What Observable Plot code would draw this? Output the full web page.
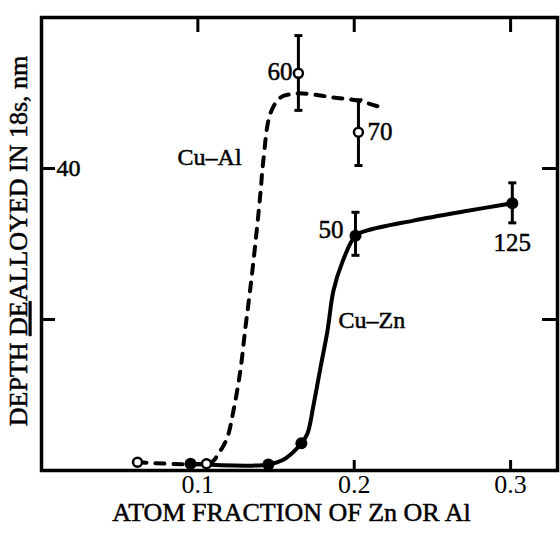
<!DOCTYPE html>
<html>
<head>
<meta charset="utf-8">
<script src="https://cdn.jsdelivr.net/npm/d3@7"></script>
<script src="https://cdn.jsdelivr.net/npm/@observablehq/plot@0.6"></script>
<style>
  body { margin: 0; background: #fff; }
  #chart svg { display: block; }
</style>
</head>
<body>
<div id="chart"></div>
<script>
// ---- Cu–Al measured points (open circles) ----
const alX = [0.0614, 0.1055, 0.1643, 0.2027];
const alY = [1.1, 0.9, 52.6, 44.8];
const alLabel = ["", "", "60", "70"];
const alErrLo = [null, null, 47.7, 40.4];
const alErrHi = [null, null, 57.6, 49.1];

// ---- Cu–Zn measured points (filled circles) ----
const znX = [0.0953, 0.1451, 0.1662, 0.2008, 0.3011];
const znY = [0.9, 0.8, 3.6, 31.1, 35.4];
const znLabel = ["", "", "", "50", "125"];
const znErrLo = [null, null, null, 28.5, 32.8];
const znErrHi = [null, null, null, 34.2, 38.1];

// ---- hand-drawn curves ----
const alCurveX = [0.0614, 0.1055, 0.1100, 0.1132, 0.1157, 0.1189, 0.1228, 0.1272, 0.1304, 0.1336, 0.1368, 0.1400, 0.1419, 0.1464, 0.1528, 0.1611, 0.1701, 0.1867, 0.2020, 0.2199];
const alCurveY = [1.1, 0.9, 1.3, 2.25, 3.05, 4.4, 7.95, 13.25, 18.9, 24.2, 30.1, 36.7, 41.1, 47.3, 49.4, 49.9, 49.9, 49.4, 49.0, 47.9];
const znCurveX = [0.0953, 0.1451, 0.1560, 0.1662, 0.1701, 0.1739, 0.1784, 0.1829, 0.1867, 0.1924, 0.2008, 0.2084, 0.2379, 0.2698, 0.3011];
const znCurveY = [0.9, 0.8, 1.6, 3.6, 4.9, 8.6, 13.6, 18.5, 23.8, 27.6, 31.1, 31.8, 33.1, 34.3, 35.4];

// ---- series labels ----
const seriesNames = ["Cu–Al", "Cu–Zn"];
const seriesLabelX = [0.087, 0.19];
const seriesLabelY = [41.5, 19.9];

// ---- ticks ----
const xTopTicks = [0.1, 0.2, 0.3];
const xBottomTicks = [0.2, 0.3];
const xTickLabels = [0.1, 0.2, 0.3];
const yTicks = [20, 40];
const yLabelTicks = [40];

const xTitle = "ATOM FRACTION OF Zn OR Al";
const yTitle = "DEPTH DEALLOYED IN 18s, nm";

// ---- build tables ----
const al = alX.map((x, i) => ({x, y: alY[i], label: alLabel[i], lo: alErrLo[i], hi: alErrHi[i]}));
const zn = znX.map((x, i) => ({x, y: znY[i], label: znLabel[i], lo: znErrLo[i], hi: znErrHi[i]}));
const alCurve = alCurveX.map((x, i) => ({x, y: alCurveY[i]}));
const znCurve = znCurveX.map((x, i) => ({x, y: znCurveY[i]}));
const errs = [...al, ...zn].filter(d => d.lo != null);
const caps = errs.flatMap(d => [{x: d.x, y: d.lo}, {x: d.x, y: d.hi}]);
const seriesLbl = seriesNames.map((t, i) => ({t, x: seriesLabelX[i], y: seriesLabelY[i]}));

const W = 560, H = 534;
const mL = 41, mR = 3, mT = 17, mB = 64;
const fw = W - mL - mR, fh = H - mT - mB;

const capSymbol = {
  draw(ctx, size) {
    const w = Math.sqrt(size / Math.PI);
    ctx.moveTo(-w, 0);
    ctx.lineTo(w, 0);
  }
};

const font = "'Liberation Serif', 'Times New Roman', serif";
const ink = {fontFamily: font, fill: "#000", stroke: "#000", strokeWidth: 0.5};

const chart = Plot.plot({
  width: W,
  height: H,
  marginLeft: mL,
  marginRight: mR,
  marginTop: mT,
  marginBottom: mB,
  style: {fontFamily: font, background: "#fff", color: "#000"},
  x: {domain: [0, 0.33], axis: null},
  y: {domain: [0, 60], axis: null},
  marks: [
    // ticks (inward)
    Plot.tickX(xTopTicks, {x: d => d, stroke: "#000", strokeWidth: 3, insetBottom: fh - 15}),
    Plot.tickX(xBottomTicks, {x: d => d, stroke: "#000", strokeWidth: 3, insetTop: fh - 10}),
    Plot.tickY(yTicks, {y: d => d, stroke: "#000", strokeWidth: 3, insetRight: fw - 14}),
    Plot.tickY(yTicks, {y: d => d, stroke: "#000", strokeWidth: 3, insetLeft: fw - 15}),
    // tick labels
    Plot.axisX({ticks: xTickLabels, tickFormat: d => String(d), anchor: "bottom", tickSize: 0, tickPadding: 4, fontSize: 26, label: null, ...ink}),
    Plot.text(yLabelTicks, {y: d => d, text: d => String(d), frameAnchor: "left", textAnchor: "start", dx: 15, fontSize: 24, ...ink}),
    // axis titles
    Plot.text([xTitle], {text: d => d, frameAnchor: "bottom", textAnchor: "middle", dy: 50, dx: -8, fontSize: 26, ...ink}),
    Plot.text([yTitle], {text: d => d, frameAnchor: "left", textAnchor: "middle", rotate: -90, dx: -23, dy: -3, fontSize: 26, ...ink}),
    // curves
    Plot.line(alCurve, {x: "x", y: "y", curve: "catmull-rom", stroke: "#000", strokeWidth: 4, strokeDasharray: "9,9", strokeLinecap: "round"}),
    Plot.line(znCurve, {x: "x", y: "y", curve: "catmull-rom", stroke: "#000", strokeWidth: 4}),
    // error bars
    Plot.ruleX(errs, {x: "x", y1: "lo", y2: "hi", stroke: "#000", strokeWidth: 3}),
    Plot.dot(caps, {x: "x", y: "y", symbol: capSymbol, r: 4, stroke: "#000", strokeWidth: 3, fill: "none"}),
    // points
    Plot.dot(zn, {x: "x", y: "y", r: 6, fill: "#000", stroke: "none"}),
    Plot.dot(al, {x: "x", y: "y", r: 4.5, fill: "#fff", stroke: "#000", strokeWidth: 2.5}),
    // point annotations
    Plot.text(al.filter(d => d.label === "60"), {x: "x", y: "y", text: "label", textAnchor: "end", dx: -6, dy: -1, fontSize: 25, ...ink}),
    Plot.text(al.filter(d => d.label === "70"), {x: "x", y: "y", text: "label", textAnchor: "start", dx: 9, fontSize: 25, ...ink}),
    Plot.text(zn.filter(d => d.label === "50"), {x: "x", y: "y", text: "label", textAnchor: "end", dx: -12, dy: -6, fontSize: 25, ...ink}),
    Plot.text(zn.filter(d => d.label === "125"), {x: "x", y: "y", text: "label", textAnchor: "middle", dy: 40, fontSize: 25, ...ink}),
    // series labels
    Plot.text(seriesLbl, {x: "x", y: "y", text: "t", textAnchor: "start", fontSize: 24, letterSpacing: 2, ...ink}),
    // frame
    Plot.frame({stroke: "#000", strokeWidth: 3.5})
  ]
});

// underline "DE" in the y-axis title, as in the original
d3.select(chart).selectAll("text").each(function () {
  if (this.textContent === yTitle) {
    const t = d3.select(this);
    t.text(null);
    t.append("tspan").text("DEPTH ");
    t.append("tspan").attr("text-decoration", "underline").text("DE");
    t.append("tspan").text("ALLOYED IN 18s, nm");
  }
});

document.getElementById("chart").append(chart);
</script>
</body>
</html>
